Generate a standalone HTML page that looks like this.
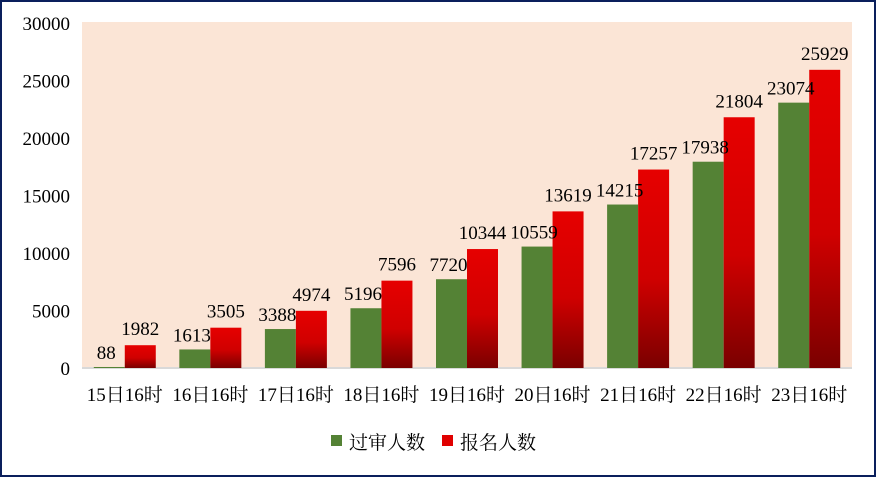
<!DOCTYPE html>
<html><head><meta charset="utf-8"><style>
body{margin:0;background:#fff}
svg text{font-family:"Liberation Serif","Noto Serif CJK SC",serif;fill:#000}
</style></head><body>
<svg width="876" height="477">
<defs><linearGradient id="rg" x1="0" y1="0" x2="0" y2="1"><stop offset="0" stop-color="#e60000"/><stop offset="0.55" stop-color="#d00000"/><stop offset="1" stop-color="#7a0000"/></linearGradient></defs>
<rect x="1" y="1" width="874" height="475" fill="#fff" stroke="#0a1f5c" stroke-width="2"/>
<rect x="82" y="22" width="770" height="346" fill="#fbe5d6"/>
<line x1="82" y1="368" x2="852" y2="368" stroke="#d9d9d9" stroke-width="2"/>
<g id="g"></g>
<g>
<rect x="331" y="435" width="11" height="11" fill="#548235"/>
<text x="349" y="449" font-size="19">过审人数</text>
<rect x="442" y="435" width="11" height="11" fill="#e00000"/>
<text x="460" y="449" font-size="19">报名人数</text>
</g>
</svg>
<script>
const categories=["15日16时","16日16时","17日16时","18日16时","19日16时","20日16时","21日16时","22日16时","23日16时"];
const approved=[88,1613,3388,5196,7720,10559,14215,17938,23074];
const registered=[1982,3505,4974,7596,10344,13619,17257,21804,25929];
const yTicks=[0,5000,10000,15000,20000,25000,30000];
const NS="http://www.w3.org/2000/svg",g=document.getElementById('g');
const x0=82,cw=770/categories.length,y0=368,yMax=30000,ph=345;
const y=v=>y0-v/yMax*ph;
function el(t,a,txt){const e=document.createElementNS(NS,t);for(const k in a)e.setAttribute(k,a[k]);if(txt!=null)e.textContent=txt;g.appendChild(e);return e;}
yTicks.forEach(v=>{const e=el('text',{x:70,y:y(v)+7,'font-size':19,'text-anchor':'end'},v);

});
categories.forEach((c,i)=>{const cx=x0+cw*i;
const t=el('text',{x:cx+cw/2,y:401,'font-size':19,'text-anchor':'middle'},c);


const bw=31,gx=cx+cw/2-bw;
const a=el('rect',{x:gx,y:y(approved[i]),width:bw,height:y0-y(approved[i]),fill:'#548235'});


const r=el('rect',{x:gx+bw,y:y(registered[i]),width:bw,height:y0-y(registered[i]),fill:'url(#rg)'});


const la=el('text',{x:gx+bw/2-3,y:y(approved[i])-8,'font-size':19,'text-anchor':'middle'},approved[i]);


const lr=el('text',{x:gx+bw*1.5,y:y(registered[i])-10,'font-size':19,'text-anchor':'middle'},registered[i]);


});
</script>
</body></html>
